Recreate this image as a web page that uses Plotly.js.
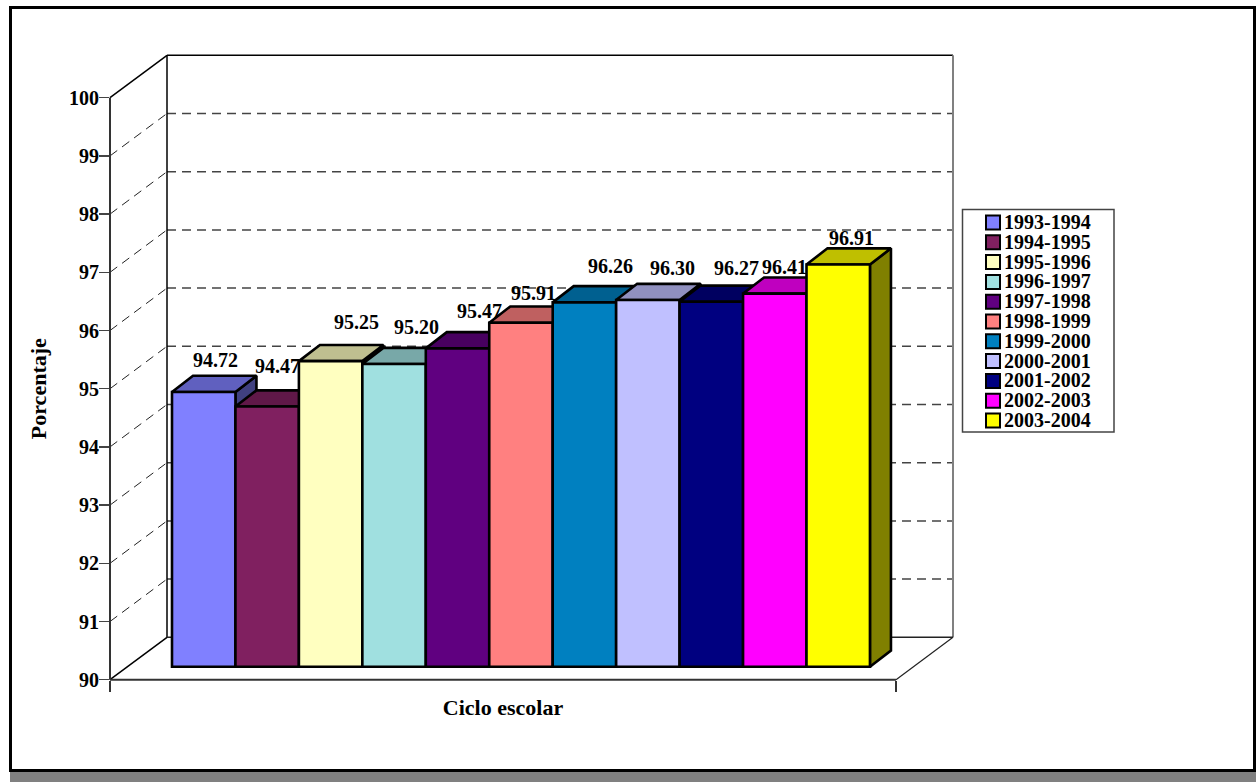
<!DOCTYPE html>
<html><head><meta charset="utf-8">
<script src="https://cdn.plot.ly/plotly-3.0.1.min.js"></script>
<style>html,body{margin:0;padding:0;background:#fff}#c{width:1256px;height:782px}</style>
</head><body><div id="c"></div>
<script>
const categories = ["1993-1994","1994-1995","1995-1996","1996-1997","1997-1998","1998-1999","1999-2000","2000-2001","2001-2002","2002-2003","2003-2004"];
const values = [94.72,94.47,95.25,95.20,95.47,95.91,96.26,96.30,96.27,96.41,96.91];
const valueLabels = ["94.72","94.47","95.25","95.20","95.47","95.91","96.26","96.30","96.27","96.41","96.91"];
const frontColors = ["#8080ff","#802060","#ffffc0","#a0e0e0","#600080","#ff8080","#0080c0","#c0c0ff","#000080","#ff00ff","#ffff00"];
const yTicks = [90,91,92,93,94,95,96,97,98,99,100];

// hand placement of the value labels, in pixels from the top centre of each bar
const labelNudgeX = [12,10,26,22,22,13,26,25,25,10,13];
const labelNudgeY = [32,41,39,37,37,30,36,32,34,27,27];

const W = 1256, H = 782, FONT = "Liberation Serif";
const BAR_W = 63.45, UNIT = 58.2;
const BAR_LEFT = 172, BAR_BASE = 666.7;       // pixel anchor of the bar plane
const AXIS_LEFT = 110, AXIS_BASE = 679.7, AXIS_TOP = 97.7, AXIS_RIGHT = 896;
const WALL_DX = 57, WALL_DY = 42.4;           // depth of the floor in pixels
const BAR_DX = 21 / BAR_W, BAR_DY = 16.2 / UNIT; // depth of a bar in axis units
const DOM_L = 100, DOM_R = 962, DOM_T = 48, DOM_B = 690;
const EDGE = 2.6;

const fx = p => p / W, fy = p => 1 - p / H;
const pxX = p => -0.5 + (p - BAR_LEFT) / BAR_W;
const pxY = p => 90 + (BAR_BASE - p) / UNIT;

function shade(hex, k) {
  const n = parseInt(hex.slice(1), 16);
  const c = [(n >> 16) & 255, (n >> 8) & 255, n & 255].map(v => Math.round(v * k));
  return `rgb(${c[0]},${c[1]},${c[2]})`;
}

const traces = [];
// the visible axis subplot needs one empty trace
traces.push({type:"scatter", x:[0], y:[90], xaxis:"x2", yaxis:"y", mode:"none", hoverinfo:"skip", showlegend:false});

categories.forEach((name, i) => {
  const v = values[i], col = frontColors[i];
  const l = i - 0.5, r = i + 0.5;
  traces.push({type:"scatter", x:[r, r+BAR_DX, r+BAR_DX, r, r], y:[v, v+BAR_DY, 90+BAR_DY, 90, v],
    xaxis:"x", yaxis:"y3", mode:"lines", fill:"toself", fillcolor:shade(col,0.5),
    line:{color:"#000", width:EDGE}, hoverinfo:"skip", showlegend:false, zorder:3*i+1});
  traces.push({type:"scatter", x:[l, l+BAR_DX, r+BAR_DX, r, l], y:[v, v+BAR_DY, v+BAR_DY, v, v],
    xaxis:"x", yaxis:"y3", mode:"lines", fill:"toself", fillcolor:shade(col,0.75),
    line:{color:"#000", width:EDGE}, hoverinfo:"skip", showlegend:false, zorder:3*i+2});
  traces.push({type:"bar", name, x:[i], y:[v-90], base:90, width:1, xaxis:"x", yaxis:"y3",
    marker:{color:col, line:{color:"#000", width:EDGE}}, hoverinfo:"skip", showlegend:false, zorder:3*i+3});
});

const shapes = [];
const line = (xa, ya, xb, yb, color, width, dash) => shapes.push({type:"line", xref:"x", yref:"y3", layer:"below",
  x0:pxX(xa), y0:ya, x1:pxX(xb), y1:yb, line:{color, width, dash:dash||"solid"}});
const front = k => pxY(AXIS_BASE) + (k - 90);
const back = k => pxY(AXIS_BASE - WALL_DY) + (k - 90);
const BL = AXIS_LEFT + WALL_DX, BR = AXIS_RIGHT + WALL_DX;

yTicks.slice(1, -1).forEach(k => {
  line(AXIS_LEFT, front(k), BL, back(k), "#222", 1, "9px,6px");
  line(BL, back(k), BR, back(k), "#444", 1.5, "9px,6px");
});
line(AXIS_LEFT, front(100), BL, back(100), "#000", 1.5);
line(BL, back(100), BR, back(100), "#000", 1.5);
line(BL, back(90), BL, back(100), "#000", 1.5);
line(BR, back(90), BR, back(100), "#808080", 2);
line(AXIS_LEFT, front(90), BL, back(90), "#000", 1.5);
line(BL, back(90), BR, back(90), "#222", 1.5);
line(AXIS_RIGHT, front(90), BR, back(90), "#222", 1.2);
// the two front axis lines
line(AXIS_LEFT, front(90), AXIS_LEFT, front(100), "#333", 2);
line(AXIS_LEFT, front(90), AXIS_RIGHT, front(90), "#333", 2);

// outer frame and shadow
const paperRect = (x0, y0, x1, y1, extra) => shapes.push(Object.assign({type:"rect", xref:"paper", yref:"paper",
  x0:fx(x0), y0:fy(y0), x1:fx(x1), y1:fy(y1)}, extra));
paperRect(10, 772, W, H, {fillcolor:"#808080", line:{width:0}, layer:"above"});
paperRect(10.5, 7.5, 1254.5, 770.5, {fillcolor:"rgba(0,0,0,0)", line:{color:"#000", width:3}, layer:"above"});

// legend box
const LEG_TOP = 222, LEG_STEP = 19.8;
paperRect(962.5, 209.5, 1114, 432, {fillcolor:"#fff", line:{color:"#444", width:1.5}, layer:"above"});

const annotations = [];
categories.forEach((name, i) => {
  const cy = LEG_TOP + LEG_STEP * i;
  paperRect(986, cy-6.5, 1000, cy+7.5, {fillcolor:frontColors[i], line:{color:"#000", width:2}, layer:"above"});
  annotations.push({xref:"paper", yref:"paper", x:fx(1004), y:fy(cy), text:name, showarrow:false,
    xanchor:"left", yanchor:"middle", xshift:-2, font:{family:FONT, size:20, color:"#000", weight:"bold"}});
  annotations.push({xref:"x", yref:"y3", x:i, y:values[i], text:valueLabels[i], showarrow:false,
    xanchor:"center", yanchor:"middle", xshift:labelNudgeX[i], yshift:labelNudgeY[i],
    font:{family:FONT, size:20, color:"#000", weight:"bold"}});
});

const tickFont = {family:FONT, size:20, color:"#000", weight:"bold"};
const layout = {
  width:W, height:H, margin:{l:0,r:0,t:0,b:0,pad:0}, autosize:false,
  paper_bgcolor:"#fff", plot_bgcolor:"rgba(0,0,0,0)", hovermode:false, showlegend:false,
  barmode:"overlay", font:{family:FONT, color:"#000"},
  xaxis:{domain:[fx(DOM_L), fx(DOM_R)], range:[pxX(DOM_L), pxX(DOM_R)], visible:false, anchor:"y3", fixedrange:true},
  yaxis3:{domain:[fy(DOM_B), fy(DOM_T)], range:[pxY(DOM_B), pxY(DOM_T)], visible:false, anchor:"x", fixedrange:true},
  xaxis2:{domain:[fx(AXIS_LEFT), fx(AXIS_RIGHT)], range:[0,1], anchor:"y", tickvals:[0,1], ticktext:["",""],
    ticks:"outside", ticklen:11, tickwidth:1.5, tickcolor:"#333", showline:false,
    showgrid:false, zeroline:false, fixedrange:true,
    title:{text:"Ciclo escolar", font:{family:FONT, size:22, color:"#000", weight:"bold"}, standoff:6}},
  yaxis:{domain:[fy(AXIS_BASE), fy(AXIS_TOP)], range:[90,100], anchor:"x2", tickvals:yTicks, ticks:"outside",
    ticklen:10, tickwidth:1.5, tickcolor:"#444", showline:false, ticklabelstandoff:-4,
    showgrid:false, zeroline:false, fixedrange:true, tickfont:tickFont,
    title:{text:"Porcentaje", font:{family:FONT, size:22, color:"#000", weight:"bold"}, standoff:16}},
  shapes, annotations
};
Plotly.newPlot("c", traces, layout, {displayModeBar:false, staticPlot:true});
</script></body></html>
